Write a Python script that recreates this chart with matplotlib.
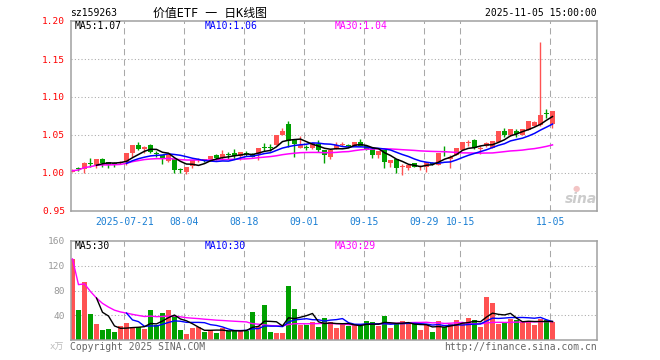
import matplotlib
matplotlib.use('Agg')
import matplotlib.pyplot as plt
import numpy as np
import pandas as pd

# daily OHLC (price), index 0 = first trading day shown
opens = [1.002, 1.006, 1.005, 1.0136, 1.0092, 1.018, 1.0149, 1.0135, 1.0136, 1.0149,
         1.0259, 1.0368, 1.0316, 1.0368, 1.0255, 1.0237, 1.0155, 1.018, 1.0045, 1.0017,
         1.009, 1.0175, 1.018, 1.0184, 1.0237, 1.0201, 1.024, 1.0267, 1.0228, 1.0262,
         1.025, 1.025, 1.034, 1.034, 1.0368, 1.05, 1.0645, 1.043, 1.0325, 1.0335,
         1.0325, 1.0385, 1.0303, 1.0207, 1.0312, 1.0375, 1.0365, 1.0355, 1.0412, 1.0355,
         1.031, 1.0237, 1.0303, 1.0128, 1.018, 1.008, 1.0062, 1.0136, 1.008, 1.0083,
         1.0132, 1.0105, 1.0285, 1.0184, 1.0237, 1.0303, 1.0395, 1.0434, 1.032, 1.0358,
         1.0325, 1.0405, 1.0548, 1.0495, 1.0553, 1.05, 1.0566, 1.0615, 1.0632, 1.0785,
         1.0645]
closes = [1.003, 1.005, 1.0136, 1.0115, 1.018, 1.0128, 1.0105, 1.0125, 1.0149, 1.0259,
          1.0368, 1.0316, 1.0338, 1.028, 1.025, 1.018, 1.0255, 1.004, 1.004, 1.0075,
          1.0165, 1.018, 1.0158, 1.0228, 1.0193, 1.025, 1.0237, 1.0224, 1.028, 1.026,
          1.0215, 1.0333, 1.0338, 1.0338, 1.05, 1.0557, 1.0425, 1.038, 1.0368, 1.033,
          1.039, 1.0303, 1.0237, 1.0303, 1.0368, 1.038, 1.036, 1.0412, 1.0355, 1.0303,
          1.0237, 1.0293, 1.0149, 1.017, 1.0062, 1.0085, 1.0105, 1.0083, 1.0085, 1.0149,
          1.0128, 1.0265, 1.028, 1.0215, 1.0325, 1.0404, 1.04, 1.0325, 1.0325, 1.039,
          1.0421, 1.0553, 1.05, 1.058, 1.051, 1.058, 1.0684, 1.0665, 1.0763, 1.078,
          1.082]
highs = [1.005, 1.008, 1.014, 1.0194, 1.018, 1.0194, 1.0149, 1.014, 1.016, 1.0267,
         1.0368, 1.0412, 1.036, 1.0382, 1.029, 1.0237, 1.0255, 1.018, 1.006, 1.0075,
         1.0165, 1.0195, 1.018, 1.0228, 1.0255, 1.0303, 1.028, 1.0316, 1.028, 1.029,
         1.026, 1.0333, 1.039, 1.038, 1.05, 1.0588, 1.0684, 1.043, 1.049, 1.037,
         1.039, 1.0434, 1.0303, 1.0303, 1.0408, 1.041, 1.038, 1.0412, 1.0447, 1.0355,
         1.031, 1.0293, 1.0303, 1.017, 1.018, 1.0125, 1.0105, 1.0136, 1.011, 1.0149,
         1.0145, 1.0265, 1.036, 1.0237, 1.0325, 1.0404, 1.0435, 1.045, 1.035, 1.041,
         1.0421, 1.0553, 1.0597, 1.058, 1.0575, 1.058, 1.0684, 1.069, 1.1728, 1.0842,
         1.082]
lows = [1.001, 1.003, 0.9996, 1.0083, 1.0066, 1.0075, 1.0062, 1.008, 1.012, 1.0105,
        1.0215, 1.0303, 1.0262, 1.026, 1.021, 1.0114, 1.014, 1.0004, 1.000, 0.999,
        1.007, 1.015, 1.015, 1.0165, 1.0175, 1.0185, 1.019, 1.0184, 1.017, 1.022,
        1.021, 1.017, 1.029, 1.029, 1.0368, 1.05, 1.0346, 1.0215, 1.0325, 1.030,
        1.031, 1.028, 1.0128, 1.018, 1.031, 1.035, 1.034, 1.0355, 1.035, 1.030,
        1.0194, 1.0194, 1.0062, 1.0085, 1.0004, 0.9974, 1.004, 1.0075, 1.004, 1.0017,
        1.011, 1.0105, 1.0224, 1.0069, 1.0237, 1.0303, 1.035, 1.0315, 1.0255, 1.034,
        1.0325, 1.0412, 1.048, 1.0491, 1.048, 1.05, 1.0566, 1.0615, 1.062, 1.0727,
        1.0588]
# volume, 万
volumes = [131, 48, 93, 41.6, 25.6, 16, 17.6, 12.8, 22.4, 27.2,
           20.3, 20.3, 17.6, 48, 24, 43.2, 48, 38.4, 16, 9.6,
           19.2, 20.8, 12.8, 16, 11.2, 19.2, 14.4, 14.4, 14.4, 14.4,
           44.8, 22.4, 56, 12.8, 11.2, 11.2, 88, 49.6, 24, 24,
           28.8, 20.8, 35.2, 28.8, 19.2, 27.7, 22.4, 24, 22.4, 30.4,
           28.8, 22.4, 38.4, 19.2, 25.6, 30.4, 27.2, 25.6, 16, 24,
           12.8, 30.4, 20.8, 25.6, 32, 27.2, 35.2, 32, 20.8, 70,
           59, 25.6, 27.2, 33.6, 32, 28.8, 30, 25, 34, 32,
           29]

date_labels = ['2025-07-21', '08-04', '08-18', '09-01', '09-15', '09-29', '10-15', '11-05']
date_index = [9, 19, 29, 39, 49, 59, 65, 80]

price_ma_text = ['MA5:1.07', 'MA10:1.06', 'MA30:1.04']
vol_ma_text = ['MA5:30', 'MA10:30', 'MA30:29']

RED = '#ff5252'
GREEN = '#00a000'
MA_COLORS = ['black', '#0000ff', '#ff00ff']
GRID = '#a8a8a8'
MONO = 'DejaVu Sans Mono'

o = np.array(opens)
c = np.array(closes)
h = np.array(highs)
l = np.array(lows)
v = np.array(volumes)
x = np.arange(len(c))
up = c >= o
cols = np.where(up, RED, GREEN)

W, H = 660, 360
fig = plt.figure(figsize=(6.6, 3.6), dpi=100)
fig.patch.set_facecolor('white')


def fx(px):
    return px / W


def fy(py):
    return 1 - py / H


ax = fig.add_axes([fx(70.5), fy(211), fx(597) - fx(70.5), fy(21) - fy(211)])
axv = fig.add_axes([fx(70.5), fy(340), fx(597) - fx(70.5), fy(241) - fy(340)])

xmin, xmax = -0.33, 87.42
grid_x = [i - 0.37 for i in date_index]

# price panel
ax.vlines(x, l, h, colors=cols, linewidth=1, zorder=2)
body = np.abs(c - o)
small = body < 0.0013
bottom = np.where(small, (o + c) / 2 - 0.00065, np.minimum(o, c))
ax.bar(x, np.where(small, 0.0013, body), bottom=bottom, width=0.82, color=cols,
       linewidth=0, zorder=2)

cs = pd.Series(c)
ma5 = cs.rolling(5).mean()
ma10 = cs.rolling(10).mean()
ma30 = cs.rolling(30, min_periods=1).mean()
for s, col in zip([ma30, ma10, ma5], MA_COLORS[::-1]):
    ax.plot(x, s, color=col, linewidth=1.1, zorder=3)

ax.set_xlim(xmin, xmax)
ax.set_ylim(0.95, 1.20)
yt = [0.95, 1.00, 1.05, 1.10, 1.15, 1.20]
ax.set_yticks(yt)
ax.set_yticklabels(['%.2f' % t for t in yt], color='red', family=MONO, fontsize=6.8)
for t in [1.00, 1.05, 1.10, 1.15]:
    ax.axhline(t, color=GRID, linewidth=0.75, linestyle=(0, (1, 2.2)), zorder=1)
for gx in grid_x:
    ax.axvline(gx, color=GRID, linewidth=0.75, linestyle=(0, (6, 4)), zorder=1)
ax.set_xticks(grid_x)
ax.set_xticklabels(date_labels, color='#1a7fd4', family=MONO, fontsize=7)
ax.tick_params(axis='both', length=0)
ax.tick_params(axis='y', pad=4)
ax.tick_params(axis='x', pad=4)

# volume panel
axv.bar(x, v, width=0.82, color=cols, linewidth=0, zorder=2)
vs = pd.Series(v)
vma5 = vs.rolling(5).mean()
vma10 = vs.rolling(10).mean()
vma30 = vs.rolling(30, min_periods=1).mean()
for s, col in zip([vma30, vma10, vma5], MA_COLORS[::-1]):
    axv.plot(x, s, color=col, linewidth=1.0, zorder=3)
axv.set_xlim(xmin, xmax)
axv.set_ylim(0, 160)
axv.set_yticks([40, 80, 120, 160])
axv.set_yticklabels(['40', '80', '120', '160'], color='#999999', family=MONO, fontsize=6.8)
axv.set_xticks([])
for t in [40, 80, 120]:
    axv.axhline(t, color=GRID, linewidth=0.75, linestyle=(0, (1, 2.2)), zorder=1)
for gx in grid_x:
    axv.axvline(gx, color=GRID, linewidth=0.75, linestyle=(0, (6, 4)), zorder=1)
axv.tick_params(axis='both', length=0)
axv.tick_params(axis='y', pad=4)

for a in (ax, axv):
    for sp in a.spines.values():
        sp.set_color('#a0a0a0')
        sp.set_linewidth(1.1)

# header and labels
fig.text(fx(70), fy(13), 'sz159263', family=MONO, fontsize=7, va='center', ha='left')
fig.text(fx(210), fy(13), '价值ETF 一 日K线图', family=[MONO, 'Noto Sans CJK SC'],
         fontsize=8.6, va='center', ha='center')
fig.text(fx(597), fy(13), '2025-11-05 15:00:00', family=MONO, fontsize=7,
         va='center', ha='right')

for txt, xp, col in zip(price_ma_text, [75, 205, 335], MA_COLORS):
    fig.text(fx(xp), fy(26), txt, family=MONO, fontsize=7, color=col, va='center', ha='left')
for txt, xp, col in zip(vol_ma_text, [75, 205, 335], MA_COLORS):
    fig.text(fx(xp), fy(246), txt, family=MONO, fontsize=7, color=col, va='center', ha='left')

fig.text(fx(64), fy(347), 'x万', family=[MONO, 'Noto Sans CJK SC'], fontsize=6.5,
         color='#bbbbbb', va='center', ha='right')
fig.text(fx(70), fy(347), 'Copyright 2025 SINA.COM', family=MONO, fontsize=7,
         color='#666666', va='center', ha='left')
fig.text(fx(597), fy(347), 'http://finance.sina.com.cn', family=MONO, fontsize=7,
         color='#666666', va='center', ha='right')

# sina watermark
fig.text(fx(581), fy(199), 'sina', fontsize=10, fontweight='bold', style='italic',
         color='#cccccc', va='center', ha='center')
fig.text(fx(576), fy(188), '●', fontsize=6, color='#f3c4c4', va='center', ha='center')

fig.savefig('out.png', dpi=100)
